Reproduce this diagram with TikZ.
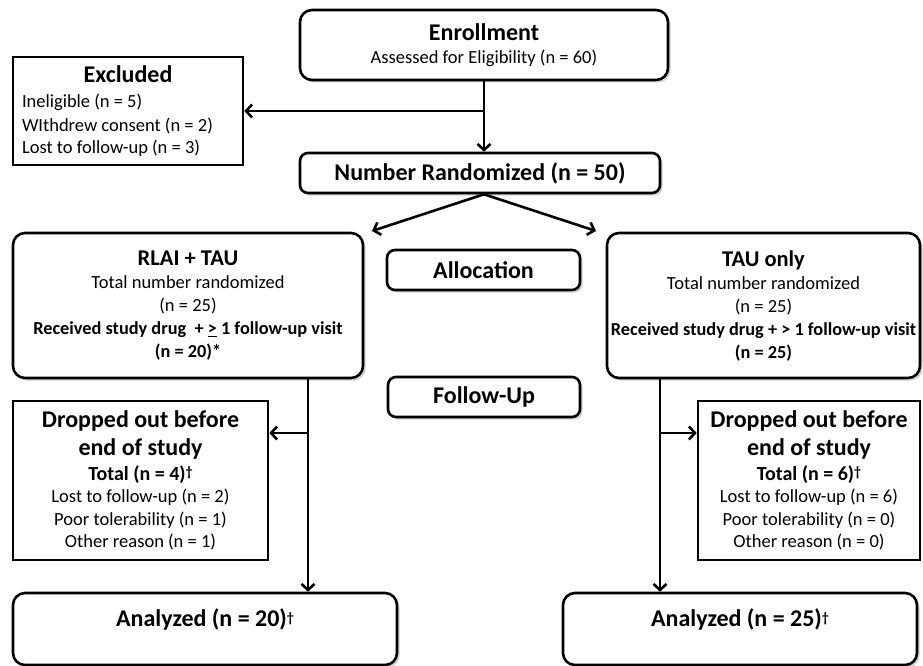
\documentclass[tikz,border=0pt]{standalone}
\usepackage{fontspec}
\setmainfont{Carlito}
\usetikzlibrary{arrows.meta,shadows,calc}
\newcommand\bigt[1]{{\fontsize{24}{26}\selectfont\bfseries #1}}
\newcommand\midt[1]{{\fontsize{22.5}{26}\selectfont\bfseries #1}}
\newcommand\smb[1]{{\fontsize{18.3}{20}\selectfont\bfseries #1}}
\newcommand\totb[1]{{\fontsize{20}{22}\selectfont\bfseries #1}}
\newcommand\dg{\raisebox{3.5pt}{\fontsize{14}{14}\selectfont\bfseries\textdagger}}
\begin{document}
\begin{tikzpicture}[x=1pt,y=-1pt,
  rbox/.style={draw, line width=2.6pt, rounded corners=12pt, fill=white, inner sep=0pt, align=center,
    drop shadow={opacity=0.3, shadow xshift=2.5pt, shadow yshift=-2.5pt, fill=black!60},
    font=\fontsize{18.5}{23}\selectfont},
  sbox/.style={draw, line width=2.6pt, fill=white, inner sep=0pt, font=\fontsize{18.5}{22.5}\selectfont},
  lbl/.style={rbox, rounded corners=8pt},
  arr/.style={line width=2.6pt, -{Straight Barb[length=6pt,width=13pt]}}
]
\useasboundingbox (0,0) rectangle (923,666);

% boxes
\node[rbox, minimum width=368pt, minimum height=70pt] (enroll) at (484,45)
  {\bigt{Enrollment}\\ Assessed for Eligibility (n = 60)};
\node[sbox, minimum width=230pt, minimum height=108pt, text width=212pt, align=flush left] (excl) at (128,111)
  {\makebox[212pt]{\bigt{Excluded}}\\[3pt] Ineligible (n = 5)\\[1pt] WIthdrew consent (n = 2)\\ Lost to follow-up (n = 3)};
\node[lbl, minimum width=360pt, minimum height=40pt] (rand) at (480,173)
  {\bigt{Number Randomized (n = 50)}};
\node[rbox, minimum width=350pt, minimum height=145pt] (rlai) at (188,305.5)
  {\midt{RLAI + TAU}\\ Total number randomized\\ (n = 25)\\ \smb{Received study drug \ + \underline{>} 1 follow-up visit}\\ \smb{(n = 20)*}};
\node[rbox, minimum width=313pt, minimum height=145pt] (tau) at (763.5,305.5)
  {\midt{TAU only}\\ Total number randomized\\ (n = 25)\\ \smb{Received study drug + > 1 follow-up visit}\\ \smb{(n = 25)}};
\node[lbl, minimum width=193pt, minimum height=40pt] (alloc) at (483.5,270) {\bigt{Allocation}};
\node[lbl, minimum width=192pt, minimum height=40pt] (follow) at (484,397) {\bigt{Follow-Up}};
\node[sbox, align=center, minimum width=255pt, minimum height=159pt] (dropL) at (140.5,480.5)
  {\bigt{Dropped out before}\\[6pt] \bigt{end of study}\\[2pt] \totb{Total (n = 4)\dg}\\ Lost to follow-up (n = 2)\\ Poor tolerability (n = 1)\\ Other reason (n = 1)};
\node[sbox, align=center, minimum width=222pt, minimum height=159pt] (dropR) at (809,480.5)
  {\bigt{Dropped out before}\\[6pt] \bigt{end of study}\\[2pt] \totb{Total (n = 6)\dg}\\ Lost to follow-up (n = 6)\\ Poor tolerability (n = 0)\\ Other reason (n = 0)};
\node[rbox, minimum width=384pt, minimum height=72pt, text height=16pt, text depth=22pt] (anaL) at (205,629)
  {\bigt{Analyzed (n = 20)\dg}};
\node[rbox, minimum width=354pt, minimum height=72pt, text height=16pt, text depth=22pt] (anaR) at (740,629)
  {\bigt{Analyzed (n = 25)\dg}};

% helper coordinates
\coordinate (aL) at (372,231);
\coordinate (aR) at (596,231);
\coordinate (vl) at (308,433);
\coordinate (vr) at (660,433);

% connectors
\draw[arr] (enroll.south) -- (enroll.south |- rand.north);
\draw[arr] (enroll.south |- excl.east) -- (excl.east);
\draw[arr] (enroll.south |- rand.south) -- (aL);
\draw[arr] (enroll.south |- rand.south) -- (aR);
\draw[arr] (vl |- rlai.south) -- (vl |- anaL.north);
\draw[arr] (vl) -- (vl -| dropL.east);
\draw[arr] (vr |- tau.south) -- (vr |- anaR.north);
\draw[arr] (vr) -- (vr -| dropR.west);
\end{tikzpicture}
\end{document}
